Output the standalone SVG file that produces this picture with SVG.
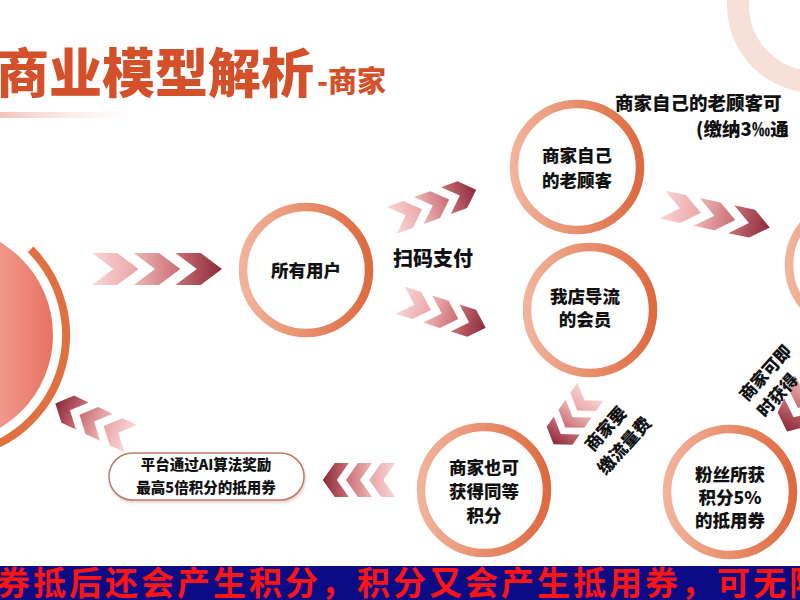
<svg xmlns="http://www.w3.org/2000/svg" xmlns:xlink="http://www.w3.org/1999/xlink" width="800" height="600" viewBox="0 0 800 600">
<style>
.t{font-family:"Noto Sans CJK SC","Noto Sans",sans-serif;font-weight:900;fill:#111;}
.node{font-size:17.5px;text-anchor:middle;}
.ring{fill:none;stroke:url(#ringGrad);stroke-width:8.5;}
.c1{fill:url(#cg1);} .c2{fill:url(#cg2);} .c3{fill:url(#cg3);}
</style>
<defs>
<linearGradient id="ringGrad" x1="0" y1="0" x2="1" y2="0">
<stop offset="0" stop-color="#f2b39b"/><stop offset="1" stop-color="#de6a40"/>
</linearGradient>
<linearGradient id="cg1" x1="0" y1="0" x2="1" y2="0">
<stop offset="0" stop-color="#f8d6d6"/><stop offset="1" stop-color="#eba4a6"/>
</linearGradient>
<linearGradient id="cg2" x1="0" y1="0" x2="1" y2="0">
<stop offset="0" stop-color="#eeb6b6"/><stop offset="1" stop-color="#c96d73"/>
</linearGradient>
<linearGradient id="cg3" x1="0" y1="0" x2="1" y2="0">
<stop offset="0" stop-color="#c9707a"/><stop offset="1" stop-color="#8c2a38"/>
</linearGradient>
<linearGradient id="bigFill" gradientUnits="userSpaceOnUse" x1="-20" y1="0" x2="55" y2="0">
<stop offset="0" stop-color="#f3a899"/><stop offset="1" stop-color="#e8705f"/>
</linearGradient>
<linearGradient id="barGrad" x1="0" y1="0" x2="1" y2="0">
<stop offset="0" stop-color="#f0c4bb"/><stop offset="1" stop-color="#fbe9e5" stop-opacity="0"/>
</linearGradient>
<path id="chev" d="M0,0 H26 L48,15 L26,30 H0 L22,15 Z"/>
<g id="chev3">
<use xlink:href="#chev" x="-67" y="-15" class="c1"/>
<use xlink:href="#chev" x="-24" y="-15" class="c2"/>
<use xlink:href="#chev" x="19" y="-15" class="c3"/>
</g>
<filter id="sh" x="-10%" y="-20%" width="120%" height="150%">
<feDropShadow dx="1" dy="2" stdDeviation="1.5" flood-color="#b08070" flood-opacity="0.35"/>
</filter>
</defs>
<rect width="800" height="600" fill="#ffffff"/>

<!-- decorations -->
<circle cx="815" cy="5" r="77" fill="none" stroke="#f7e0d8" stroke-width="22"/>
<rect x="0" y="112" width="135" height="6" fill="url(#barGrad)"/>
<text x="-4" y="93" font-family="Noto Sans CJK SC,sans-serif" font-weight="900" font-size="53" fill="#d4502a">商业模型解析</text>
<text x="317" y="92" font-family="Noto Sans CJK SC,sans-serif" font-weight="900" font-size="29" fill="#d4502a">-商家</text>

<!-- left big circle -->
<g id="node-platform">
<circle cx="-55" cy="335" r="108" fill="url(#bigFill)"/>
<path d="M30.6,249.4 A121,121 0 0 1 -23.7,451.9" fill="none" stroke="#e0703f" stroke-width="8"/>
</g>

<g id="connectors">
<g transform="translate(157,269) scale(0.97,1.07)"><use xlink:href="#chev3"/></g>
<g transform="translate(434,205) rotate(-20) scale(0.67,0.95)"><use xlink:href="#chev3"/></g>
<g transform="translate(443,314) rotate(18) scale(0.67,0.95)"><use xlink:href="#chev3"/></g>
<g transform="translate(716,216) rotate(12) scale(0.82,0.95)"><use xlink:href="#chev3"/></g>
<g transform="translate(804,395) rotate(115) scale(0.6,1.1)"><use xlink:href="#chev3"/></g>
<g transform="translate(572,418) rotate(125) scale(0.48,1.05)"><use xlink:href="#chev3"/></g>
<g transform="translate(359,480) rotate(180) scale(0.54,1.13)"><use xlink:href="#chev3"/></g>
<g transform="translate(93,421) rotate(205) scale(0.62,1.0)"><use xlink:href="#chev3"/></g>
</g>

<g id="node-users">
<circle class="ring" cx="306" cy="270" r="63"/>
<text class="t node" x="306" y="277" font-size="18">所有用户</text>
</g>
<text id="label-pay" class="t" x="393" y="266" font-size="20">扫码支付</text>

<g id="node-old">
<circle class="ring" cx="577" cy="167" r="63"/>
<text class="t node" x="577" y="162">商家自己</text>
<text class="t node" x="577" y="187">的老顾客</text>
</g>

<g id="node-member">
<circle class="ring" cx="590" cy="310" r="63"/>
<text class="t node" x="585" y="303">我店导流</text>
<text class="t node" x="585" y="326">的会员</text>
</g>

<g id="node-right">
<circle class="ring" cx="852" cy="265" r="63"/>
</g>

<g id="note-top">
<text class="t" x="615" y="110" font-size="18.5">商家自己的老顾客可</text>
<text class="t" x="696" y="136" font-size="18.5">(缴纳3‰通</text>
</g>

<g id="label-instant" transform="translate(765.5,373) rotate(-48)">
<text class="t" x="-34" y="6" font-size="17">商家可即</text>
<text class="t" x="-34" y="30" font-size="17">时获得</text>
</g>

<g id="node-fans">
<circle class="ring" cx="730" cy="492" r="63"/>
<text class="t node" x="730" y="481">粉丝所获</text>
<text class="t node" x="730" y="504">积分5%</text>
<text class="t node" x="730" y="527">的抵用券</text>
</g>

<g id="label-fee" transform="translate(606,429) rotate(-48)">
<text class="t" x="0" y="6" font-size="17.5" text-anchor="middle">商家要</text>
<text class="t" x="0" y="31" font-size="17.5" text-anchor="middle">缴流量费</text>
</g>

<g id="node-merchant-points">
<circle class="ring" cx="484" cy="490" r="63"/>
<text class="t node" x="484" y="474">商家也可</text>
<text class="t node" x="484" y="498">获得同等</text>
<text class="t node" x="484" y="522">积分</text>
</g>

<g id="node-ai">
<rect x="109" y="453" width="195" height="47" rx="23.5" fill="#fff" stroke="#c07a68" stroke-width="1.5" filter="url(#sh)"/>
<text class="t" x="206" y="470" font-size="14.5" text-anchor="middle">平台通过AI算法奖励</text>
<text class="t" x="206" y="493" font-size="14.5" text-anchor="middle">最高5倍积分的抵用券</text>
</g>

<g id="banner">
<rect x="0" y="566" width="800" height="34" fill="#0b0b86"/>
<text x="-3" y="595" font-family="Noto Sans CJK SC,sans-serif" font-weight="bold" font-size="33" letter-spacing="3" fill="#ff1414">券抵后还会产生积分，积分又会产生抵用券，可无限</text>
</g>
</svg>
